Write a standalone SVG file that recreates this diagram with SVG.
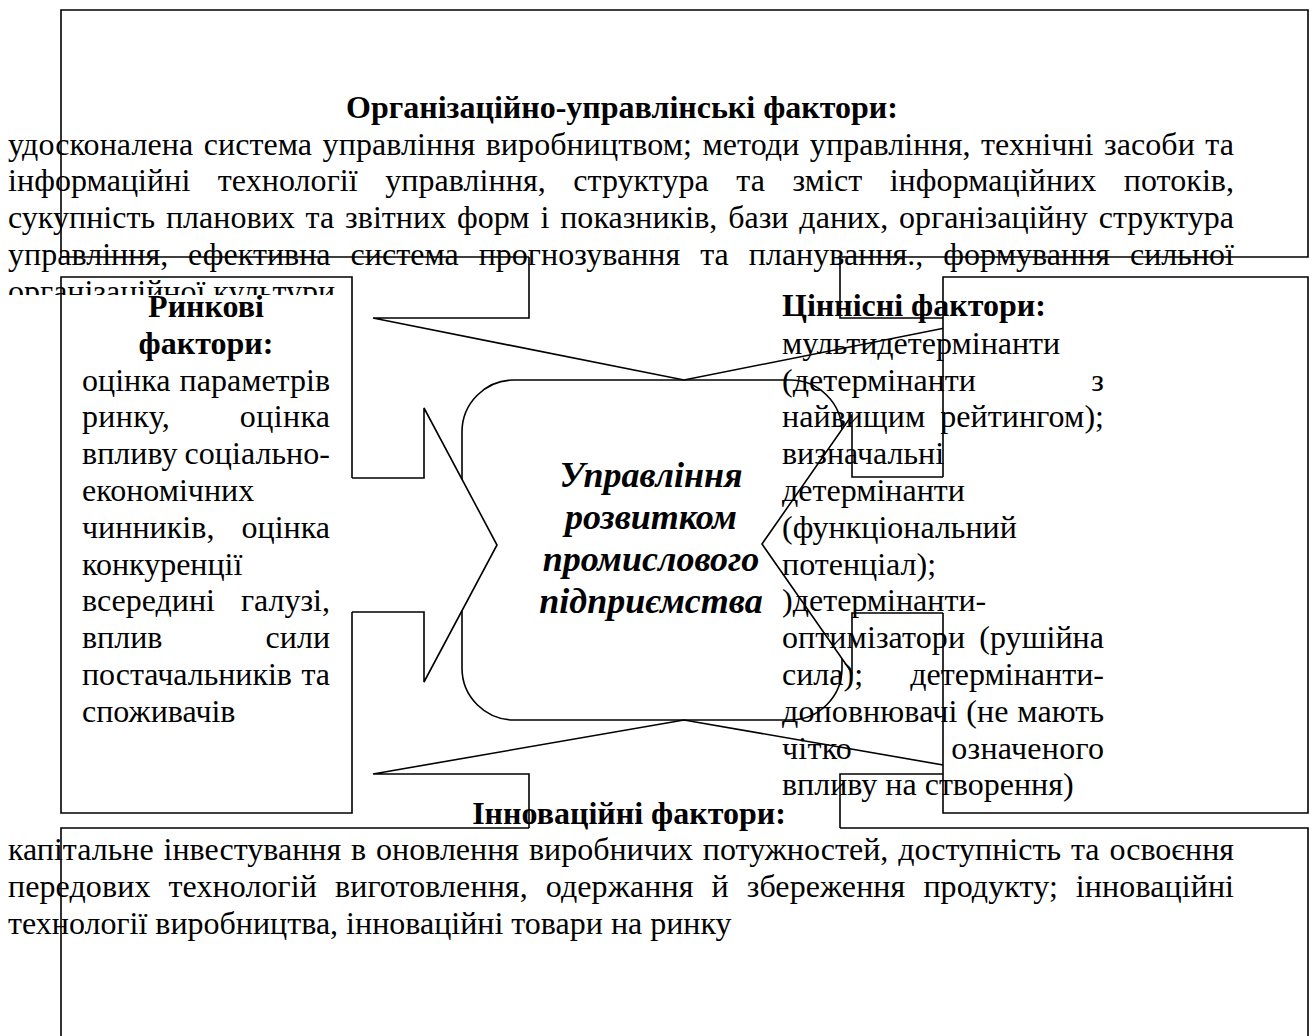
<svg xmlns="http://www.w3.org/2000/svg" width="1312" height="1036" viewBox="0 0 1312 1036">
  <style>
    .fill{fill:#fff;stroke:none}
    .line{fill:none;stroke:#000;stroke-width:1.6;stroke-linejoin:miter}
    .t{font-family:"Liberation Serif","Times New Roman",serif;font-size:32px;fill:#000}
    .b{font-weight:bold}
    .mid{text-anchor:middle}
    .ctr{font-family:"Liberation Serif","Times New Roman",serif;font-size:36px;font-weight:bold;font-style:italic;text-anchor:middle;fill:#000}
  </style>
  <defs>
    <clipPath id="clip-org-last">
      <rect x="0" y="0" width="1312" height="295"/>
    </clipPath>
  </defs>
  <rect x="0" y="0" width="1312" height="1036" fill="#fff"/>

  <!-- Market factors (left) -->
  <g id="node-market">
    <rect class="fill" x="61" y="277" width="291" height="536"/>
    <path class="line" d="M352,478 V277 H61 V813 H352 V612"/>
    <text class="t b mid" x="206" y="317">Ринкові</text>
    <text class="t b mid" x="206" y="353.8">фактори:</text>
    <text class="t" x="82" y="390.6" textLength="248" lengthAdjust="spacing" style="word-spacing:1.1px">оцінка параметрів</text>
    <text class="t" x="82" y="427.4" textLength="248" lengthAdjust="spacing" style="word-spacing:61.3px">ринку, оцінка</text>
    <text class="t" x="82" y="464.2" textLength="248" lengthAdjust="spacing" style="word-spacing:-1.2px">впливу соціально-</text>
    <text class="t" x="82" y="501">економічних</text>
    <text class="t" x="82" y="537.8" textLength="248" lengthAdjust="spacing" style="word-spacing:19px">чинників, оцінка</text>
    <text class="t" x="82" y="574.6">конкуренції</text>
    <text class="t" x="82" y="611.4" textLength="248" lengthAdjust="spacing" style="word-spacing:18px">всередині галузі,</text>
    <text class="t" x="82" y="648.2" textLength="248" lengthAdjust="spacing" style="word-spacing:95.2px">вплив сили</text>
    <text class="t" x="82" y="685" textLength="248" lengthAdjust="spacing" style="word-spacing:1.6px">постачальників та</text>
    <text class="t" x="82" y="721.8">споживачів</text>
  </g>

  <!-- Central node -->
  <g id="node-center">
    <rect x="462" y="380" width="380" height="340" rx="52" ry="52" fill="#fff" stroke="#000" stroke-width="1.6"/>
    <text class="ctr" x="651" y="487">Управління</text>
    <text class="ctr" x="651" y="529">розвитком</text>
    <text class="ctr" x="651" y="571">промислового</text>
    <text class="ctr" x="651" y="613">підприємства</text>
  </g>

  <!-- Callout arrows pointing at the central node -->
  <g id="connectors">
    <g id="arrow-org">
      <polygon class="fill" points="529,257 529,318 373,318 684,380 995,318 840,318 840,257"/>
      <path class="line" d="M529,257 V318 H373 L684,380 L995,318 H840 V257"/>
    </g>
    <g id="arrow-innov">
      <polygon class="fill" points="529,828 529,774 373,774 684,720 995,774 840,774 840,828"/>
      <path class="line" d="M529,828 V774 H373 L684,720 L995,774 H840 V828"/>
    </g>
    <g id="arrow-market">
      <polygon class="fill" points="352,478 424,478 424,408 497,545 424,682 424,612 352,612"/>
      <path class="line" d="M352,478 H424 V408 L497,545 L424,682 V612 H352"/>
    </g>
    <g id="arrow-value">
      <polygon class="fill" points="943,477 852,477 852,415 762,544 852,673 852,613 943,613"/>
      <path class="line" d="M943,477 H852 V415 L762,544 L852,673 V613 H943"/>
    </g>
  </g>

  <!-- Value factors (right) -->
  <g id="node-value">
    <rect class="fill" x="943" y="277" width="365" height="536"/>
    <path class="line" d="M943,477 V277 H1308 V813 H943 V613"/>
    <text class="t b" x="782" y="316">Ціннісні фактори:</text>
    <text class="t" x="782" y="353.8">мультидетермінанти</text>
    <text class="t" x="782" y="390.6" textLength="322" lengthAdjust="spacing" style="word-spacing:107.3px">(детермінанти з</text>
    <text class="t" x="782" y="427.4" textLength="322" lengthAdjust="spacing" style="word-spacing:6.8px">найвищим рейтингом);</text>
    <text class="t" x="782" y="464.2">визначальні</text>
    <text class="t" x="782" y="501">детермінанти</text>
    <text class="t" x="782" y="537.8">(функціональний</text>
    <text class="t" x="782" y="574.6">потенціал);</text>
    <text class="t" x="782" y="611.4">)детермінанти-</text>
    <text class="t" x="782" y="648.2" textLength="322" lengthAdjust="spacing" style="word-spacing:6px">оптимізатори (рушійна</text>
    <text class="t" x="782" y="685" textLength="322" lengthAdjust="spacing" style="word-spacing:39px">сила); детермінанти-</text>
    <text class="t" x="782" y="721.8" textLength="322" lengthAdjust="spacing" style="word-spacing:0.6px">доповнювачі (не мають</text>
    <text class="t" x="782" y="758.6" textLength="322" lengthAdjust="spacing" style="word-spacing:91px">чітко означеного</text>
    <text class="t" x="782" y="795.4">впливу на створення)</text>
  </g>

  <!-- Innovation factors (bottom) -->
  <g id="node-innov">
    <rect class="fill" x="61" y="828" width="1247" height="260"/>
    <path class="line" d="M529,828 H61 V1090 M840,828 H1308 V1090"/>
    <text class="t b mid" x="629" y="824">Інноваційні фактори:</text>
    <text class="t" x="8" y="860" textLength="1226" lengthAdjust="spacing" style="word-spacing:1.9px">капітальне інвестування в оновлення виробничих потужностей, доступність та освоєння</text>
    <text class="t" x="8" y="896.8" textLength="1226" lengthAdjust="spacing" style="word-spacing:9.9px">передових технологій виготовлення, одержання й збереження продукту; інноваційні</text>
    <text class="t" x="8" y="933.6">технології виробництва, інноваційні товари на ринку</text>
  </g>

  <!-- Organisational and managerial factors (top) -->
  <g id="node-org">
    <rect class="fill" x="61" y="10" width="1247" height="247"/>
    <path class="line" d="M529,257 H61 V10 H1308 V257 H840"/>
    <text class="t b mid" x="622" y="118">Організаційно-управлінські фактори:</text>
    <text class="t" x="8" y="154.6" textLength="1226" lengthAdjust="spacing" style="word-spacing:2.4px">удосконалена система управління виробництвом; методи управління, технічні засоби та</text>
    <text class="t" x="8" y="191.4" textLength="1226" lengthAdjust="spacing" style="word-spacing:19.4px">інформаційні технології управління, структура та зміст інформаційних потоків,</text>
    <text class="t" x="8" y="228.2" textLength="1226" lengthAdjust="spacing" style="word-spacing:2.8px">сукупність планових та звітних форм і показників, бази даних, організаційну структура</text>
    <text class="t" x="8" y="265" textLength="1226" lengthAdjust="spacing" style="word-spacing:11.9px">управління, ефективна система прогнозування та планування., формування сильної</text>
    <text class="t" x="8" y="301.8" clip-path="url(#clip-org-last)">організаційної культури</text>
  </g>
</svg>
